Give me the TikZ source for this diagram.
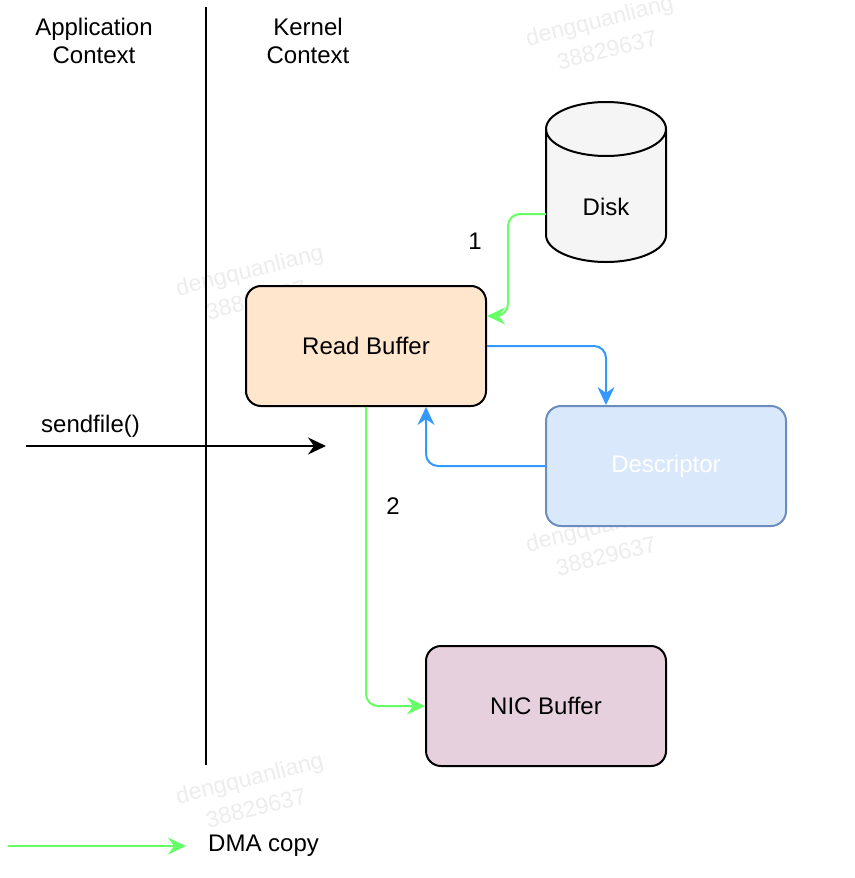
\documentclass[tikz,border=0pt]{standalone}
\usepackage{fontspec}
\setmainfont{Liberation Sans}
\usetikzlibrary{arrows.meta}
\definecolor{dmagreen}{HTML}{66FF66}
\definecolor{bluearrow}{HTML}{3399FF}
\definecolor{rbfill}{HTML}{FFE6CC}
\definecolor{descfill}{HTML}{DAE8FC}
\definecolor{descstroke}{HTML}{6C8EBF}
\definecolor{nicfill}{HTML}{E6D0DE}
\definecolor{diskfill}{HTML}{F5F5F5}
\definecolor{wmark}{HTML}{EDEDED}
\tikzset{
  lbl/.style={font=\fontsize{24}{28}\selectfont, inner sep=0pt, align=center},
  boxnode/.style={lbl, draw, line width=2pt, rounded corners=15pt, minimum width=240pt, minimum height=120pt},
  tipstyle/.style={-{Stealth[length=18pt,width=17pt,inset=6pt]}},
  dma/.style={draw=dmagreen, line width=2pt, rounded corners=12pt, tipstyle, dmagreen},
  blueflow/.style={draw=bluearrow, line width=2pt, rounded corners=12pt, tipstyle, bluearrow},
  plainline/.style={draw=black, line width=2pt},
  wm/.style={font=\fontsize{23}{27}\selectfont, text=wmark, rotate=14, inner sep=0pt},
}
\begin{document}
\begin{tikzpicture}[x=1pt,y=-1pt]
\useasboundingbox (0,0) rectangle (854,878);
\fill[white] (0,0) rectangle (854,878);

% watermarks
\node[wm] (wm1a) at (600,22) {dengquanliang};
\node[wm] (wm1b) at (607,50) {38829637};
\node[wm] (wm2a) at (250,272) {dengquanliang};
\node[wm] (wm2b) at (256,300) {38829637};
\node[wm] (wm3a) at (600,528) {dengquanliang};
\node[wm] (wm3b) at (606,556) {38829637};
\node[wm] (wm4a) at (250,780) {dengquanliang};
\node[wm] (wm4b) at (256,808) {38829637};

% context divider
\coordinate (divtop) at (206,7);
\coordinate (divbot) at (206,765);
\draw[plainline] (divtop) -- (divbot);
\node[lbl] (appctx) at (94,41) {Application\\Context};
\node[lbl] (kerctx) at (308,41) {Kernel\\Context};

% disk cylinder
\node[minimum width=120pt, minimum height=160pt, inner sep=0pt] (disk) at (606,182) {};
\filldraw[fill=diskfill, draw=black, line width=2pt]
  (546,129) -- (546,235) arc[start angle=180, end angle=0, x radius=60, y radius=27]
  -- (666,129) arc[start angle=0, end angle=-180, x radius=60, y radius=27] -- cycle;
\draw[line width=2pt] (546,129) arc[start angle=180, end angle=0, x radius=60, y radius=27];
\node[lbl] (disklbl) at (606,207) {Disk};

% boxes
\node[boxnode, fill=rbfill] (readbuf) at (366,346) {Read Buffer};
\node[boxnode, fill=descfill, draw=descstroke, text=white] (desc) at (666,466) {Descriptor};
\node[boxnode, fill=nicfill] (nic) at (546,706) {NIC Buffer};

% DMA 1: disk -> read buffer
\draw[dma] ([yshift=-32pt]disk.west) -| ([xshift=21pt,yshift=30pt]readbuf.east) -- ([yshift=30pt]readbuf.east);
\node[lbl] (n1) at (475,241) {1};

% descriptor exchange
\draw[blueflow] (readbuf.east) -| ([xshift=-60pt]desc.north);
\draw[blueflow] (desc.west) -| ([xshift=60pt]readbuf.south);

% DMA 2: read buffer -> NIC
\draw[dma] (readbuf.south) |- (nic.west);
\node[lbl] (n2) at (393,506) {2};

% sendfile call
\coordinate (sf0) at (26,446);
\coordinate (sf1) at (326,446);
\draw[plainline, tipstyle] (sf0) -- (sf1);
\node[lbl, anchor=west] (sflbl) at (41,426) {sendfile()};

% legend
\coordinate (lg0) at (8,846);
\coordinate (lg1) at (186,846);
\draw[dma] (lg0) -- (lg1);
\node[lbl, anchor=west] (lglbl) at (208,846) {DMA copy};
\end{tikzpicture}
\end{document}
